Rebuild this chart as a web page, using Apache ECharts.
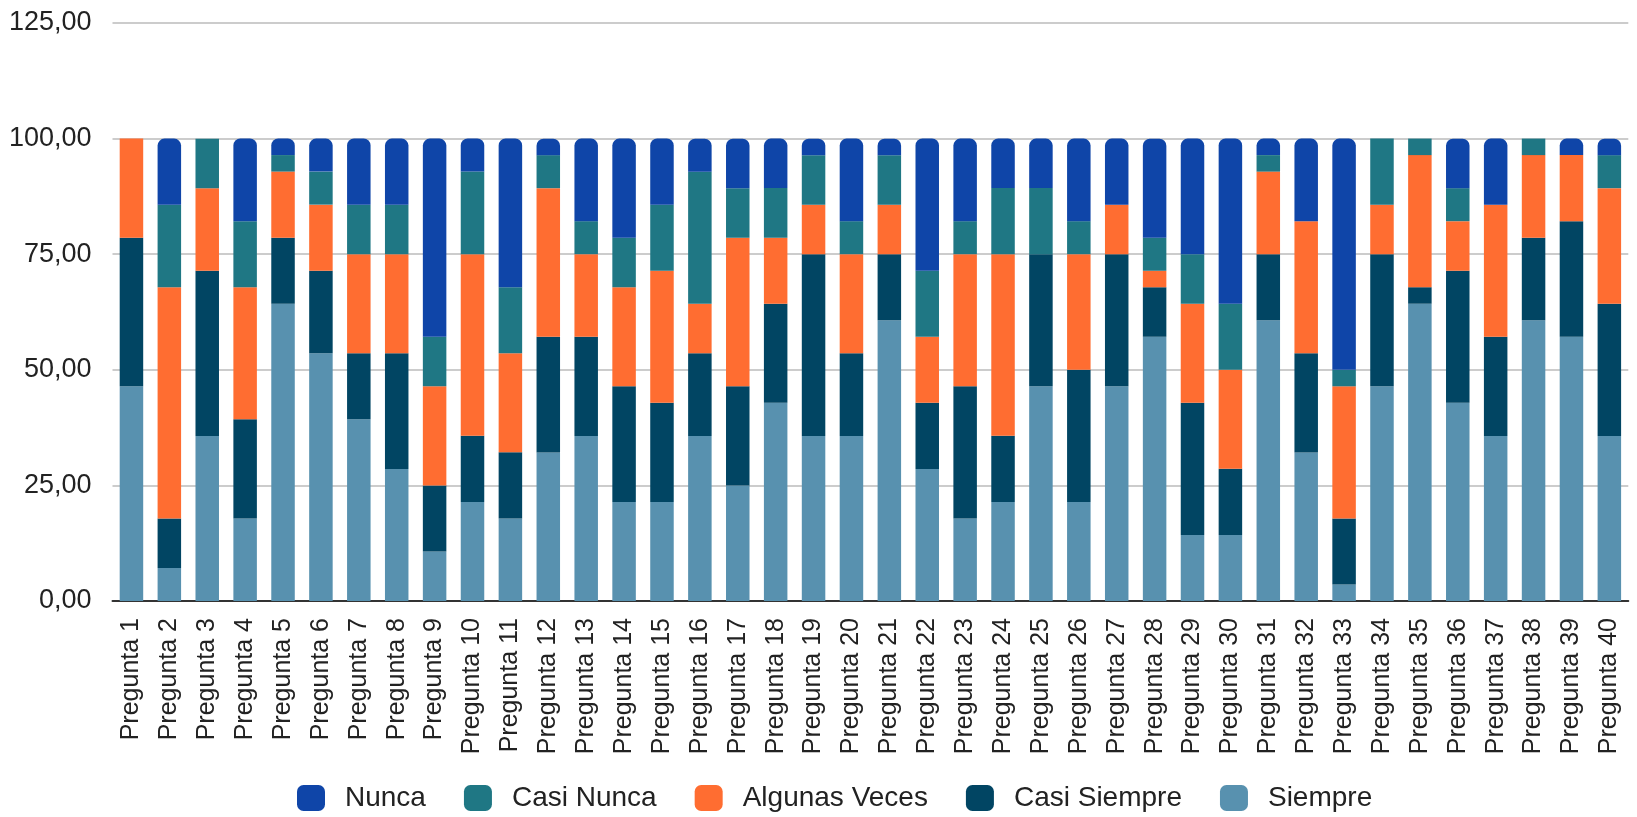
<!DOCTYPE html>
<html>
<head>
<meta charset="utf-8">
<title>Respuestas por pregunta</title>
<script src="https://cdn.jsdelivr.net/npm/echarts@6/dist/echarts.min.js"></script>
<style>
  html, body { margin: 0; padding: 0; background: #fff; }
  #chart { width: 1637px; height: 817px; }
</style>
</head>
<body>
<div id="chart"></div>
<script>
// Categories: one bar per question
const preguntas = Array.from({ length: 40 }, (_, i) => 'Pregunta ' + (i + 1));

// Percentage of answers per option (stacked bottom to top)
const siempre = [46.43, 7.14, 35.71, 17.86, 64.29, 53.57, 39.29, 28.57, 10.71, 21.43,
  17.86, 32.14, 35.71, 21.43, 21.43, 35.71, 25.00, 42.86, 35.71, 35.71,
  60.71, 28.57, 17.86, 21.43, 46.43, 21.43, 46.43, 57.14, 14.29, 14.29,
  60.71, 32.14, 3.57, 46.43, 64.29, 42.86, 35.71, 60.71, 57.14, 35.71];

const casiSiempre = [32.14, 10.71, 35.71, 21.43, 14.29, 17.86, 14.29, 25.00, 14.29, 14.29,
  14.29, 25.00, 21.43, 25.00, 21.43, 17.86, 21.43, 21.43, 39.29, 17.86,
  14.29, 14.29, 28.57, 14.29, 28.57, 28.57, 28.57, 10.71, 28.57, 14.29,
  14.29, 21.43, 14.29, 28.57, 3.57, 28.57, 21.43, 17.86, 25.00, 28.57];

const algunasVeces = [21.43, 50.00, 17.86, 28.57, 14.29, 14.29, 21.43, 21.43, 21.43, 39.29,
  21.43, 32.14, 17.86, 21.43, 28.57, 10.71, 32.14, 14.29, 10.71, 21.43,
  10.71, 14.29, 28.57, 39.29, 0, 25.00, 10.71, 3.57, 21.43, 21.43,
  17.86, 28.57, 28.57, 10.71, 28.57, 10.71, 28.57, 17.86, 14.29, 25.00];

const casiNunca = [0, 17.86, 10.71, 14.29, 3.57, 7.14, 10.71, 10.71, 10.71, 17.86,
  14.29, 7.14, 7.14, 10.71, 14.29, 28.57, 10.71, 10.71, 10.71, 7.14,
  10.71, 14.29, 7.14, 14.29, 14.29, 7.14, 0, 7.14, 10.71, 14.29,
  3.57, 0, 3.57, 14.29, 3.57, 7.14, 0, 3.57, 0, 7.14];

const nunca = [0, 14.29, 0, 17.86, 3.57, 7.14, 14.29, 14.29, 42.86, 7.14,
  32.14, 3.57, 17.86, 21.43, 14.29, 7.14, 10.71, 10.71, 3.57, 17.86,
  3.57, 28.57, 17.86, 10.71, 10.71, 17.86, 14.29, 21.43, 25.00, 35.71,
  3.57, 17.86, 50.00, 0, 0, 10.71, 14.29, 0, 3.57, 3.57];

// Legend order (top of the stack first)
const legendOrder = ['Nunca', 'Casi Nunca', 'Algunas Veces', 'Casi Siempre', 'Siempre'];

const FONT = '"Liberation Sans", Arial, sans-serif';

function barSeries(name, data, color, radius) {
  return {
    name: name,
    type: 'bar',
    stack: 'total',
    barWidth: 23.5,
    data: data,
    itemStyle: { color: color, borderRadius: radius || 0 },
    emphasis: { disabled: true }
  };
}

const chart = echarts.init(document.getElementById('chart'), null, { renderer: 'canvas' });

chart.setOption({
  animation: false,
  textStyle: { fontFamily: FONT },
  grid: { left: 112.5, right: 8.7, top: 23, bottom: 216, containLabel: false },
  legend: {
    data: legendOrder,
    left: 297,
    top: 784,
    padding: 0,
    icon: 'roundRect',
    itemWidth: 28,
    itemHeight: 26,
    itemGap: 38,
    selectedMode: false,
    textStyle: { fontSize: 28, color: '#222', fontFamily: FONT, padding: [0, 0, 0, 15] }
  },
  xAxis: {
    type: 'category',
    data: preguntas,
    axisLine: { lineStyle: { color: '#333', width: 2 } },
    axisTick: { show: false },
    axisLabel: {
      rotate: 90,
      interval: 0,
      margin: 17,
      fontSize: 25,
      color: '#222',
      fontFamily: FONT
    }
  },
  yAxis: {
    type: 'value',
    min: 0,
    max: 125,
    interval: 25,
    axisLine: { show: false },
    axisTick: { show: false },
    splitLine: { lineStyle: { color: '#cccccc', width: 2 } },
    axisLabel: {
      fontSize: 27,
      color: '#222',
      margin: 21,
      fontFamily: FONT,
      formatter: v => v.toFixed(2).replace('.', ',')
    }
  },
  series: [
    barSeries('Siempre', siempre, '#5891AF'),
    barSeries('Casi Siempre', casiSiempre, '#014563'),
    barSeries('Algunas Veces', algunasVeces, '#FF6D31'),
    barSeries('Casi Nunca', casiNunca, '#1F7784'),
    barSeries('Nunca', nunca, '#0F45A8', [7, 7, 0, 0])
  ]
});
</script>
</body>
</html>
